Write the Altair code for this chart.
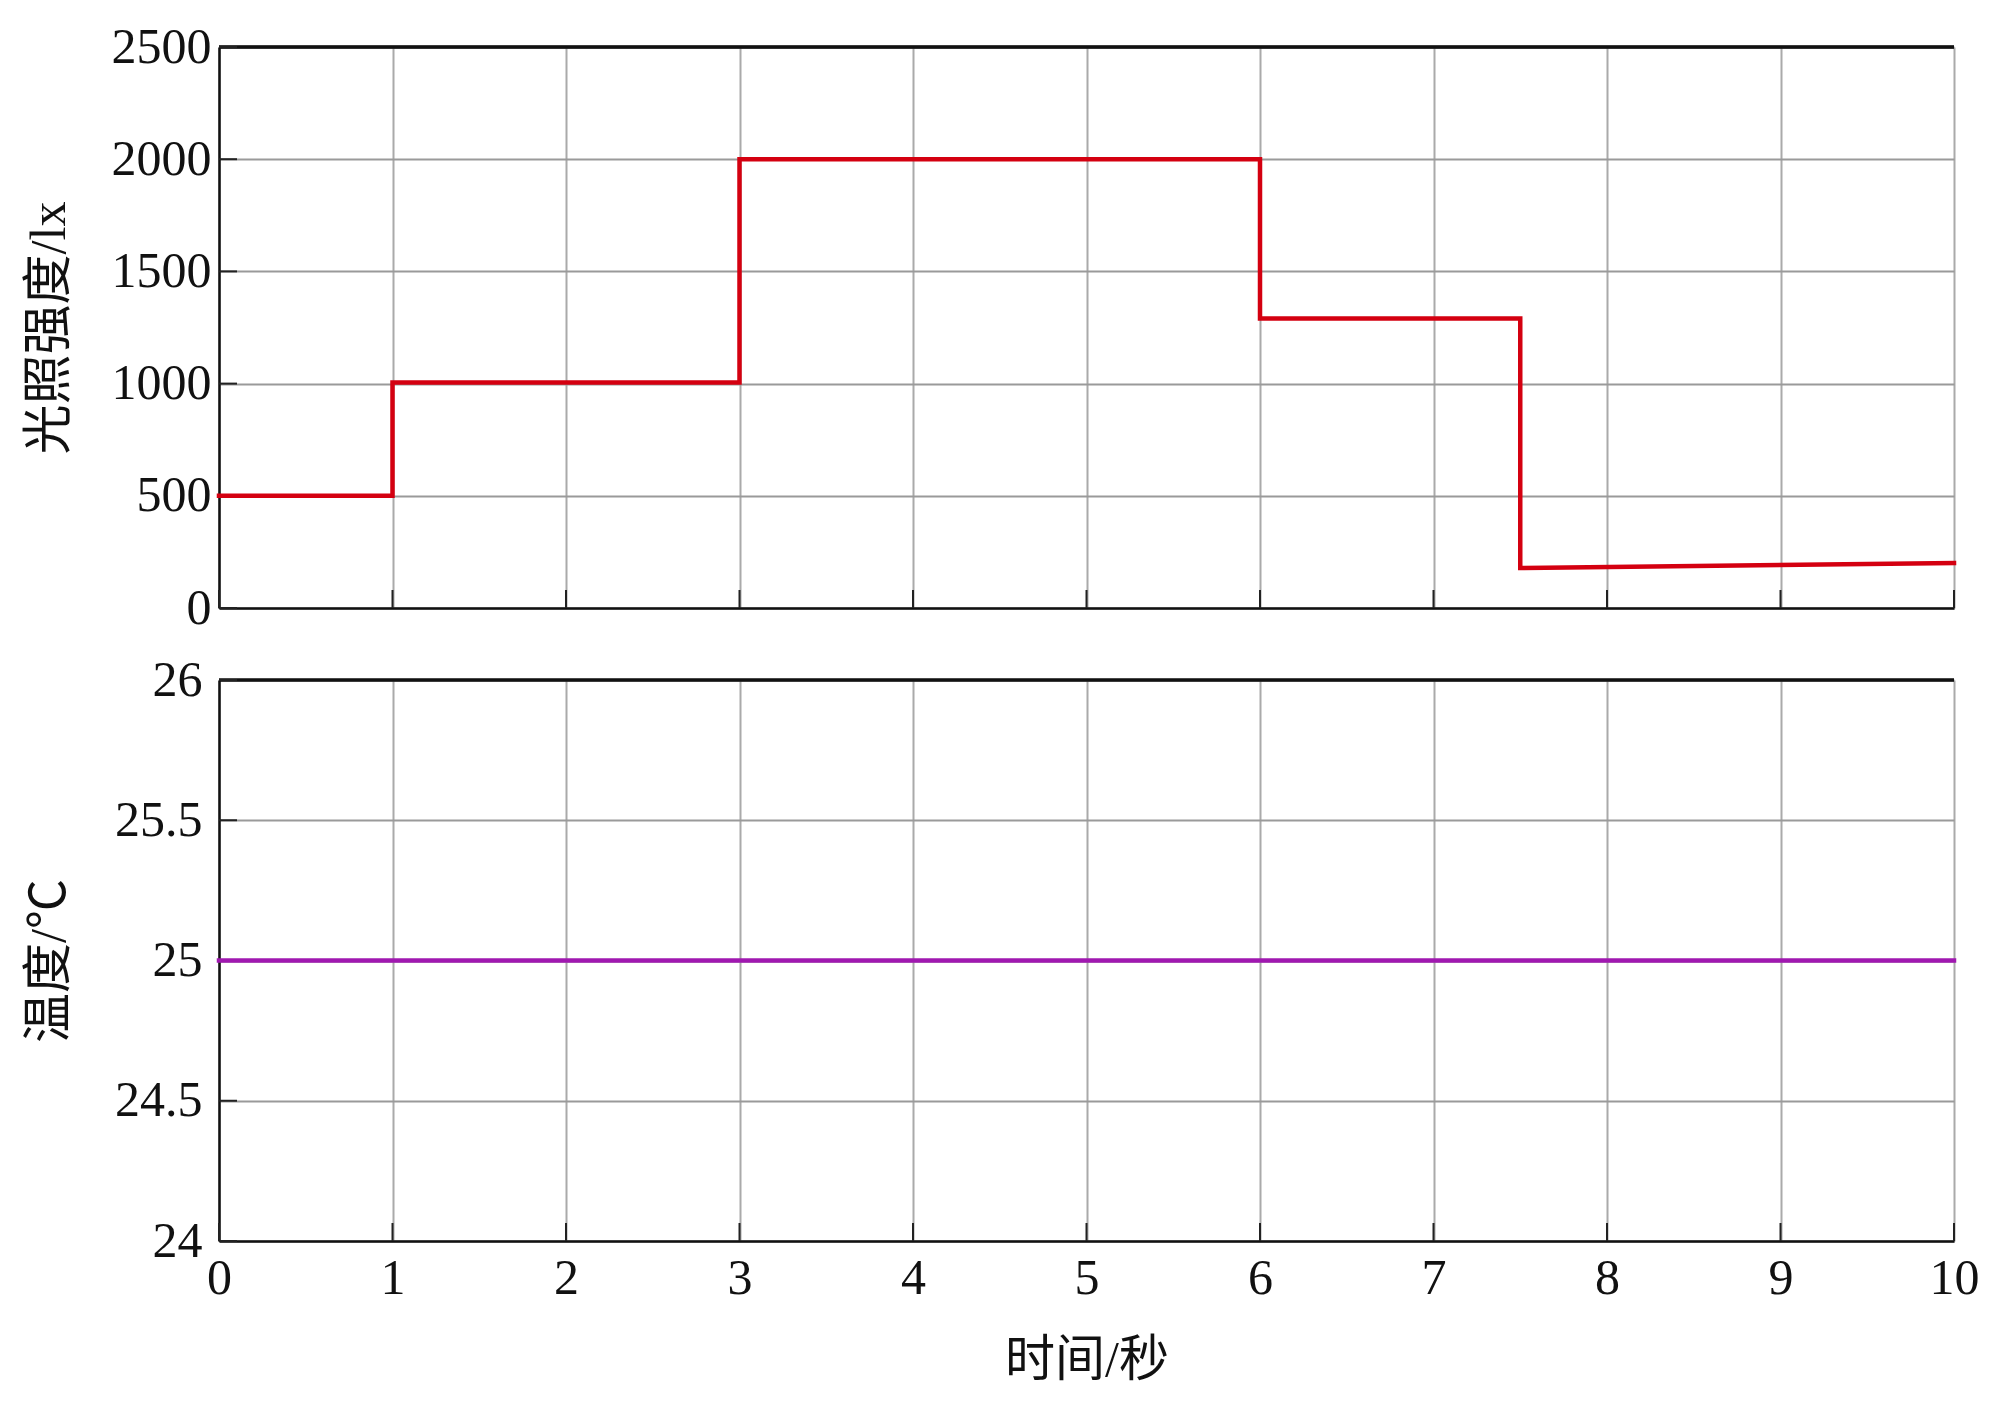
import altair as alt
import pandas as pd

# ---- data ----
light_time = [0, 1, 1, 3, 3, 6, 6, 7.5, 7.5, 10]
light_value = [500, 500, 1005, 1005, 2000, 2000, 1290, 1290, 178, 200]

temp_time = [0, 10]
temp_value = [25, 25]

x_ticks = [0, 1, 2, 3, 4, 5, 6, 7, 8, 9, 10]
light_ticks = [0, 500, 1000, 1500, 2000, 2500]
temp_ticks = [24, 24.5, 25, 25.5, 26]

x_title = "时间/秒"
light_title = "光照强度/lx"
temp_title = "温度/℃"

FONT = "Liberation Serif, Times New Roman, Noto Sans CJK SC"
W, H = 1735, 561
TICK = 18
FS = 50

light_df = pd.DataFrame({"t": light_time, "v": light_value, "o": list(range(len(light_time)))})
temp_df = pd.DataFrame({"t": temp_time, "v": temp_value})
xt_df = pd.DataFrame({"t": x_ticks})
lt_df = pd.DataFrame({"v": light_ticks})
tt_df = pd.DataFrame({"v": temp_ticks})

xscale = alt.Scale(domain=[0, 10], nice=False, zero=False)


def x_axis(show_labels):
    if show_labels:
        return alt.Axis(values=x_ticks, title=x_title, labels=True, ticks=False, format="d",
                        labelFontSize=FS, labelFont=FONT, labelColor="#111111",
                        labelPadding=12, labelFlush=False,
                        titleFontSize=FS, titleFont=FONT, titleFontWeight="normal",
                        titleColor="#111111", titleY=119, titleBaseline="middle",
                        domainColor="#111111", domainWidth=2.5,
                        grid=True, gridColor="#aaaaaa", gridWidth=2)
    return alt.Axis(values=x_ticks, title=None, labels=False, ticks=False,
                    domainColor="#111111", domainWidth=2.5,
                    grid=True, gridColor="#aaaaaa", gridWidth=2)


def y_axis(vals, title, fmt, pad):
    return alt.Axis(values=vals, title=title, format=fmt, ticks=False,
                    labelFontSize=FS, labelFont=FONT, labelColor="#111111",
                    labelPadding=pad, labelFlush=False,
                    titleFontSize=FS, titleFont=FONT, titleFontWeight="normal",
                    titleColor="#111111", titleX=-170, titleBaseline="middle",
                    domainColor="#111111", domainWidth=2.5,
                    grid=True, gridColor="#9a9a9a", gridWidth=2)


def panel(df, color, ydomain, yvals, ytitle, fmt, ypad, tick_df, show_x_labels):
    yscale = alt.Scale(domain=ydomain, nice=False, zero=False)
    base_line = alt.Chart(df).mark_line(color=color, strokeWidth=4.5, strokeJoin="miter",
                                        strokeCap="square").encode(
        x=alt.X("t:Q", scale=xscale, axis=x_axis(show_x_labels)),
        y=alt.Y("v:Q", scale=yscale, axis=y_axis(yvals, ytitle, fmt, ypad)),
    )
    if "o" in df.columns:
        base_line = base_line.encode(order="o:Q")
    top_border = alt.Chart(tick_df).mark_rule(color="#111111", strokeWidth=2.5).encode(
        x=alt.value(0), x2=alt.value(W), y=alt.value(0)
    )
    ytick_marks = alt.Chart(tick_df).mark_rule(color="#222222", strokeWidth=2).encode(
        y=alt.Y("v:Q", scale=yscale), x=alt.value(0), x2=alt.value(TICK)
    )
    xtick_marks = alt.Chart(xt_df).mark_rule(color="#222222", strokeWidth=2).encode(
        x=alt.X("t:Q", scale=xscale), y=alt.value(H), y2=alt.value(H - TICK)
    )
    return alt.layer(top_border, ytick_marks, xtick_marks, base_line).properties(width=W, height=H)


top = panel(light_df, "#d40010", [0, 2500], light_ticks, light_title, "d", 8, lt_df, False)
bottom = panel(temp_df, "#a018b0", [24, 26], temp_ticks, temp_title, "~g", 17, tt_df, True)

chart = alt.vconcat(top, bottom, spacing=22).properties(
    padding={"left": 15, "top": 14, "right": 10, "bottom": 10},
    background="white",
).configure_view(stroke=None)

chart.save("out.html", embed_options={"renderer": "svg", "actions": False})
